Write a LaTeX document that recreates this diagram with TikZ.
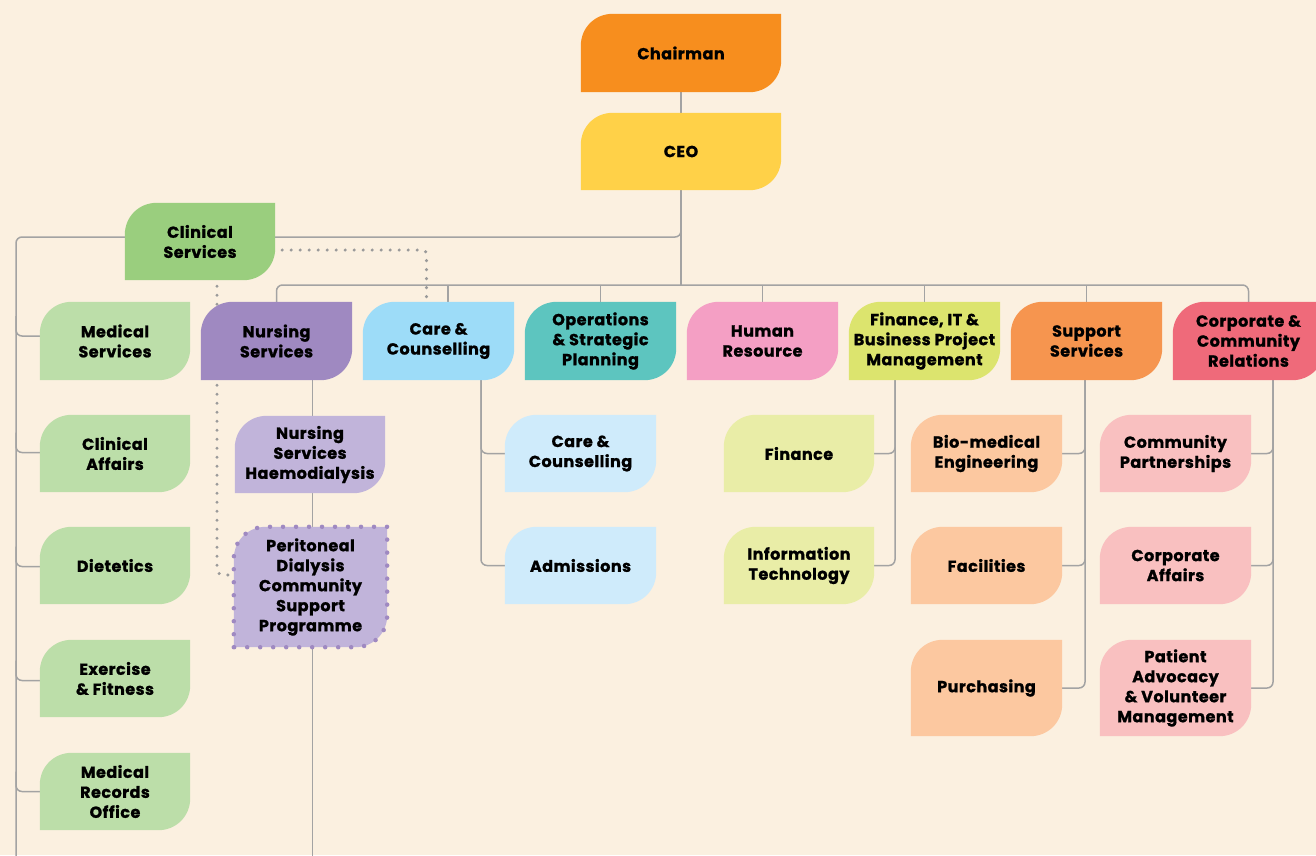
\documentclass[tikz,border=0pt]{standalone}
\usepackage{fontspec}
\setmainfont{Poppins}[BoldFeatures={FakeBold=1.2, LetterSpace=3}]
\usetikzlibrary{calc}
\definecolor{bgc}{HTML}{FBF0E0}
\definecolor{linec}{HTML}{A3A3A3}
\definecolor{dotc}{HTML}{9A9A9A}
\definecolor{chairc}{HTML}{F78E1E}
\definecolor{ceoc}{HTML}{FFD148}
\definecolor{clinc}{HTML}{9ACE7E}
\definecolor{clinl}{HTML}{BCDEA9}
\definecolor{nursec}{HTML}{9F89C1}
\definecolor{nursel}{HTML}{C1B4DA}
\definecolor{carec}{HTML}{9DDCF8}
\definecolor{carel}{HTML}{CFEBFB}
\definecolor{opsc}{HTML}{5DC5BF}
\definecolor{hrc}{HTML}{F49FC4}
\definecolor{finc}{HTML}{DCE46E}
\definecolor{finl}{HTML}{E9EDA7}
\definecolor{supc}{HTML}{F6954F}
\definecolor{supl}{HTML}{FCC8A0}
\definecolor{corpc}{HTML}{EF6A7A}
\definecolor{corpl}{HTML}{F9C0C0}
\pgfdeclarelayer{bg}
\pgfdeclarelayer{lines}
\pgfdeclarelayer{fills}
\pgfsetlayers{bg,lines,fills,main}
\tikzset{
  lt/.style={inner sep=0pt, align=center, font=\bfseries\fontsize{16}{20}\selectfont, text=black},
  conn/.style={draw=linec, line width=1.5pt, rounded corners=6pt},
  dotline/.style={draw=dotc, line width=3.4pt, line cap=round, dash pattern=on 0pt off 9pt},
  pdborder/.style={draw=nursec, line width=4.5pt, line cap=round, dash pattern=on 0pt off 13pt}
}
\newcommand\leafshape[2]{%
  \path[#1] (#2.south west) -- ([yshift=-32pt]#2.north west)
    .. controls ([yshift=-14pt]#2.north west) and ([xshift=14pt]#2.north west) .. ([xshift=32pt]#2.north west)
    -- (#2.north east) -- ([yshift=32pt]#2.south east)
    .. controls ([yshift=14pt]#2.south east) and ([xshift=-14pt]#2.south east) .. ([xshift=-32pt]#2.south east)
    -- cycle;}
\newcommand\lf[7]{%
  \node[lt, minimum width={(#4-#2)*1pt}, minimum height={(#5-#3)*1pt}] (#1) at ({(#2+#4)/2},{(#3+#5)/2}) {#7};
  \begin{pgfonlayer}{fills}\leafshape{fill=#6}{#1}\end{pgfonlayer}}
\begin{document}
\begin{tikzpicture}[x=1pt,y=-1pt]
\begin{pgfonlayer}{bg}
\fill[bgc] (0,0) rectangle (1316,855);
\end{pgfonlayer}
\useasboundingbox (0,0) rectangle (1316,855);
% nodes
\lf{chair}{581}{14}{781}{92}{chairc}{Chairman}
\lf{ceo}{581}{113}{781}{190}{ceoc}{CEO}
\lf{clin}{125}{203}{275}{280}{clinc}{Clinical\\Services}
\lf{med}{40}{302}{190}{380}{clinl}{Medical\\Services}
\lf{cla}{40}{415}{190}{492}{clinl}{Clinical\\Affairs}
\lf{die}{40}{527}{190}{604}{clinl}{Dietetics}
\lf{exf}{40}{640}{190}{717}{clinl}{Exercise\\\& Fitness}
\lf{mro}{40}{753}{190}{830}{clinl}{Medical\\Records\\Office}
\lf{nurse}{201}{302}{352}{380}{nursec}{Nursing\\Services}
\lf{nsh}{235}{416}{385}{493}{nursel}{Nursing\\Services\\Haemodialysis}
\lf{pd}{234}{527}{387}{647}{nursel}{\fontsize{16}{19}\selectfont Peritoneal\\Dialysis\\Community\\Support\\Programme}
\lf{care}{363}{302}{514}{380}{carec}{Care \&\\Counselling}
\lf{cc}{505}{415}{656}{492}{carel}{Care \&\\Counselling}
\lf{adm}{505}{527}{656}{604}{carel}{Admissions}
\lf{ops}{525}{302}{676}{380}{opsc}{Operations\\\& Strategic\\Planning}
\lf{hr}{687}{302}{838}{380}{hrc}{Human\\Resource}
\lf{fin}{849}{302}{1000}{380}{finc}{Finance, IT \&\\Business Project\\Management}
\lf{fina}{724}{415}{874}{492}{finl}{Finance}
\lf{it}{724}{527}{874}{604}{finl}{Information\\Technology}
\lf{sup}{1011}{302}{1162}{380}{supc}{Support\\Services}
\lf{bio}{911}{415}{1062}{492}{supl}{Bio-medical\\Engineering}
\lf{fac}{911}{527}{1062}{604}{supl}{Facilities}
\lf{pur}{911}{640}{1062}{736}{supl}{Purchasing}
\lf{corp}{1173}{302}{1324}{380}{corpc}{Corporate \&\\Community\\Relations}
\lf{cop}{1100}{415}{1251}{492}{corpl}{Community\\Partnerships}
\lf{caf}{1100}{527}{1251}{604}{corpl}{Corporate\\Affairs}
\lf{pav}{1100}{640}{1251}{736}{corpl}{\fontsize{16}{19}\selectfont Patient\\Advocacy\\\& Volunteer\\Management}
\begin{pgfonlayer}{fills}
\leafshape{pdborder}{pd}
\end{pgfonlayer}
% coordinates
\coordinate (busy) at (0,285);
\coordinate (lefttop) at (16,237);
\coordinate (leftbot) at (16,860);
\begin{pgfonlayer}{lines}
\draw[conn] (chair.south) -- (ceo.north);
\draw[conn] (ceo.south) -- (ceo.south |- busy);
\draw[conn] (ceo.south) |- (lefttop) -- (leftbot);
\draw[conn] (nurse.north) |- (corp.north |- busy) -- (corp.north);
\draw[conn] ([xshift=9.5pt]care.north) -- ([xshift=9.5pt]care.north |- busy);
\draw[conn] (ops.north) -- (ops.north |- busy);
\draw[conn] (hr.north) -- (hr.north |- busy);
\draw[conn] (fin.north) -- (fin.north |- busy);
\draw[conn] (sup.north) -- (sup.north |- busy);
% clinical children
\foreach \n/\dy in {med/-5,cla/-1,die/1,exf/2,mro/0}
  \draw[conn] ($(lefttop |- \n.west)+(0,\dy-20)$) |- ($(\n.west)+(0,\dy)$);
% nursing
\draw[conn] ([xshift=36pt]nurse.south) -- ([xshift=36pt]nurse.south |- leftbot);
% care
\draw[conn] ([xshift=42.5pt]care.south) |- (cc.west);
\draw[conn] ([xshift=42.5pt]care.south) |- (adm.west);
% finance
\draw[conn] ([xshift=-29.5pt]fin.south) |- (fina.east);
\draw[conn] ([xshift=-29.5pt]fin.south) |- (it.east);
% support
\draw[conn] ([xshift=-1.5pt]sup.south) |- (bio.east);
\draw[conn] ([xshift=-1.5pt]sup.south) |- (fac.east);
\draw[conn] ([xshift=-1.5pt]sup.south) |- (pur.east);
% corporate
\draw[conn] ([xshift=24.5pt]corp.south) |- (cop.east);
\draw[conn] ([xshift=24.5pt]corp.south) |- (caf.east);
\draw[conn] ([xshift=24.5pt]corp.south) |- (pav.east);
% dotted links
\draw[dotline, rounded corners=4pt] ([yshift=-8.5pt,xshift=7pt]clin.east) -| ([xshift=-12pt,yshift=4pt]care.north);
\draw[dotline, rounded corners=6pt] ([xshift=17pt,yshift=-6pt]clin.south) |- ([yshift=12pt]pd.west);
\end{pgfonlayer}
\end{tikzpicture}
\end{document}
